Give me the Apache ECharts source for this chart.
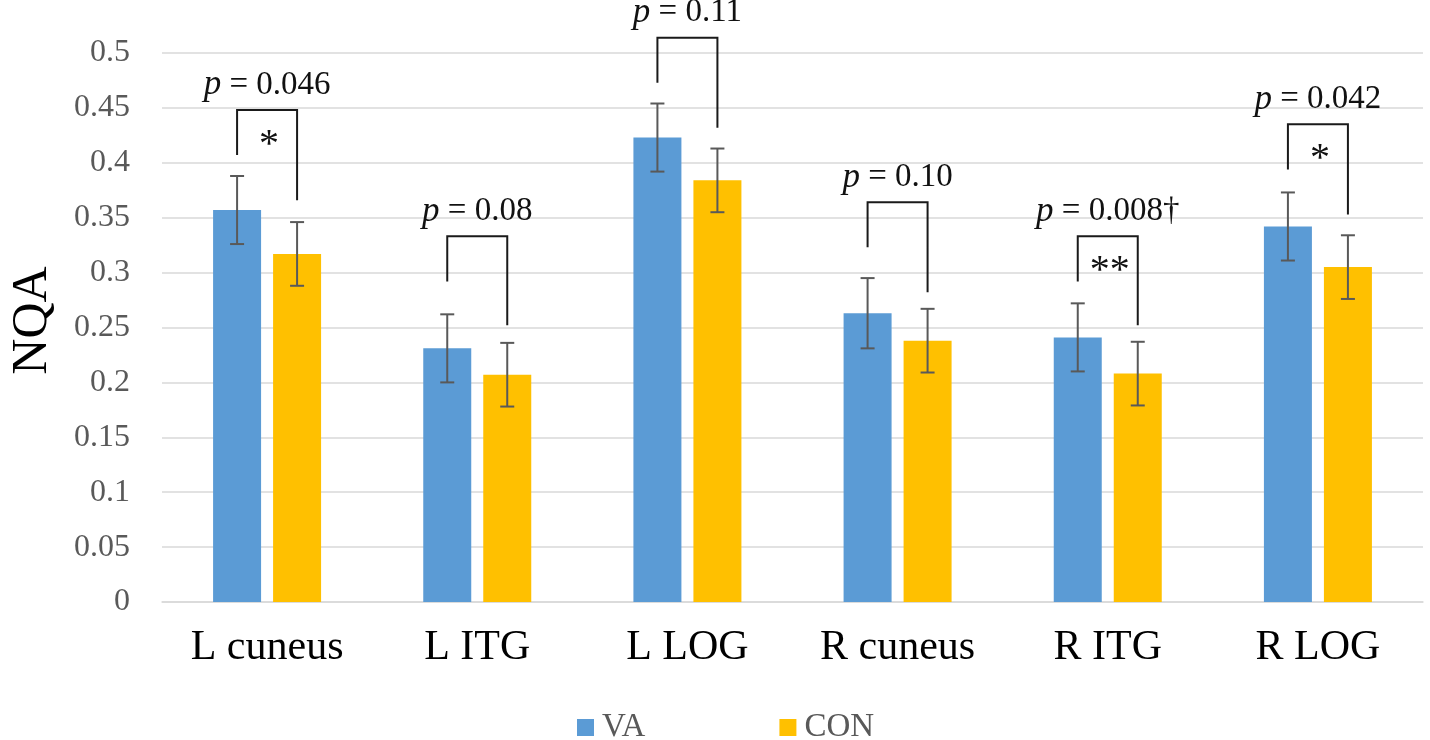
<!DOCTYPE html>
<html>
<head>
<meta charset="utf-8">
<script src="https://cdn.jsdelivr.net/npm/echarts@6/dist/echarts.min.js"></script>
<style>
html,body{margin:0;padding:0;background:#fff;}
#chart{width:1430px;height:740px;}
</style>
</head>
<body>
<div id="chart"></div>
<script>
// ---- data ----
const categories = ['L cuneus', 'L ITG', 'L LOG', 'R cuneus', 'R ITG', 'R LOG'];
const vaValues  = [0.357, 0.231, 0.423, 0.263, 0.241, 0.342];
const conValues = [0.317, 0.207, 0.384, 0.238, 0.208, 0.305];
const vaErr  = [0.031, 0.031, 0.031, 0.032, 0.031, 0.031];
const conErr = [0.029, 0.029, 0.029, 0.029, 0.029, 0.029];
const bracketTop      = [0.448, 0.333, 0.514, 0.364, 0.333, 0.435];
const bracketLeftEnd  = [0.407, 0.292, 0.473, 0.323, 0.292, 0.394];
const bracketRightEnd = [0.366, 0.252, 0.432, 0.282, 0.252, 0.353];
const pLabels = ['0.046', '0.08', '0.11', '0.10', '0.008\u2020', '0.042'];
const starLabels = ['*', '', '', '', '**', '*'];
const yTicks = [0, 0.05, 0.1, 0.15, 0.2, 0.25, 0.3, 0.35, 0.4, 0.45, 0.5];

// ---- style ----
const SERIF = '"Liberation Serif","Times New Roman",serif';
const BAR_W = 48, BAR_GAP = 12;
const OFF = (BAR_W + BAR_GAP) / 2;
const CAP = 7;

const chart = echarts.init(document.getElementById('chart'));

function errRender(params, api) {
  const i = api.value(0);
  const children = [];
  const sets = [[api.value(1), api.value(2), -OFF], [api.value(3), api.value(4), OFF]];
  sets.forEach(([v, e, off]) => {
    const hi = api.coord([i, v + e]);
    const lo = api.coord([i, v - e]);
    const x = hi[0] + off;
    const st = {stroke: '#595959', lineWidth: 2};
    children.push({type: 'line', shape: {x1: x, y1: hi[1], x2: x, y2: lo[1]}, style: st});
    children.push({type: 'line', shape: {x1: x - CAP, y1: hi[1], x2: x + CAP, y2: hi[1]}, style: st});
    children.push({type: 'line', shape: {x1: x - CAP, y1: lo[1], x2: x + CAP, y2: lo[1]}, style: st});
  });
  return {type: 'group', children};
}

function bracketRender(params, api) {
  const i = api.value(0);
  const idx = params.dataIndex;
  const top = api.coord([i, api.value(1)]);
  const le = api.coord([i, api.value(2)]);
  const re = api.coord([i, api.value(3)]);
  const cx = top[0];
  const xl = cx - OFF, xr = cx + OFF;
  const st = {stroke: '#1a1a1a', lineWidth: 2, fill: null};
  const children = [
    {type: 'polyline', shape: {points: [[xl, le[1]], [xl, top[1]], [xr, top[1]], [xr, re[1]]]}, style: st},
    {type: 'text', style: {
      text: '{i|p} = ' + pLabels[idx],
      x: cx, y: top[1] - 25,
      align: 'center', verticalAlign: 'middle',
      fontFamily: SERIF, fontSize: 33, fill: '#111',
      rich: {i: {fontFamily: SERIF, fontSize: 35, fontStyle: 'italic', fill: '#111'}}
    }}
  ];
  if (starLabels[idx]) {
    children.push({type: 'text', style: {
      text: starLabels[idx],
      x: cx + 2, y: top[1] + 35,
      align: 'center', verticalAlign: 'middle',
      fontFamily: SERIF, fontSize: 40, fill: '#111'
    }});
  }
  return {type: 'group', children};
}

chart.setOption({
  animation: false,
  backgroundColor: '#ffffff',
  grid: {left: 153, right: 7, top: 53, bottom: 138, containLabel: false},
  legend: {
    data: ['VA', 'CON'],
    left: 577, top: 711,
    itemWidth: 17, itemHeight: 17, itemGap: 134,
    icon: 'rect',
    padding: 0,
    textStyle: {fontFamily: SERIF, fontSize: 33, color: '#595959', padding: [0, 0, 0, 3]}
  },
  xAxis: {
    type: 'category',
    data: categories,
    axisLine: {lineStyle: {color: '#D9D9D9', width: 1.5}},
    axisTick: {show: false},
    axisLabel: {fontFamily: SERIF, fontSize: 42, color: '#000', margin: 25}
  },
  yAxis: {
    type: 'value',
    min: 0, max: 0.5, interval: 0.05,
    name: 'NQA',
    nameLocation: 'middle',
    nameGap: 104,
    nameRotate: 90,
    nameTextStyle: {fontFamily: SERIF, fontSize: 50, color: '#000', padding: [0, 0, 0, 14]},
    axisLine: {show: false},
    axisTick: {show: false},
    splitLine: {lineStyle: {color: '#D9D9D9', width: 1.5}},
    axisLabel: {
      fontFamily: SERIF, fontSize: 32, color: '#595959', margin: 32,
      formatter: v => {
        const t = yTicks.find(k => Math.abs(k - v) < 1e-9);
        return t === undefined ? '' : String(t);
      }
    }
  },
  series: [
    {name: 'VA', type: 'bar', data: vaValues, barWidth: BAR_W, barGap: (BAR_GAP / BAR_W * 100) + '%',
     itemStyle: {color: '#5B9BD5'}, z: 2},
    {name: 'CON', type: 'bar', data: conValues, barWidth: BAR_W,
     itemStyle: {color: '#FFC000'}, z: 2},
    {type: 'custom', renderItem: errRender, z: 3, clip: false,
     data: categories.map((c, i) => [i, vaValues[i], vaErr[i], conValues[i], conErr[i]])},
    {type: 'custom', renderItem: bracketRender, z: 4, clip: false,
     data: categories.map((c, i) => [i, bracketTop[i], bracketLeftEnd[i], bracketRightEnd[i]])}
  ]
});
</script>
</body>
</html>
